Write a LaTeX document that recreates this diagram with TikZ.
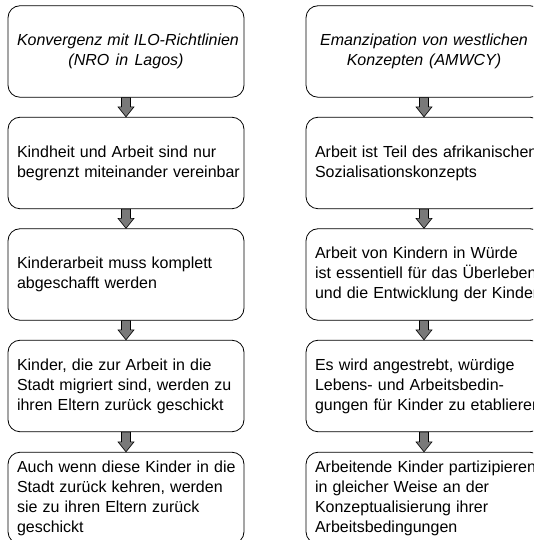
\documentclass[tikz,border=0pt]{standalone}
\usepackage{fontspec}
\setmainfont{Liberation Sans}
\usetikzlibrary{calc}
\newcommand{\widespaces}{\spaceskip=0.32em plus 0.05em\relax}
\tikzset{
  box/.style={draw=black, line width=0.8pt, rounded corners=12pt,
    minimum width=236pt, minimum height=91.5pt, text width=218pt,
    inner xsep=9pt, align=left,
    font=\fontsize{16}{20}\selectfont,
    execute at begin node=\widespaces},
  titlebox/.style={box, align=center, font=\fontsize{16}{20}\selectfont\itshape,
    execute at begin node=\relax},
  barrow/.style={draw=black, line width=0.6pt, fill=gray!95!black, line join=miter}
}
\newcommand{\blockarrow}[2]{%
  \filldraw[barrow] ($(#1.south)+(-4.5,0)$) -- ($(#1.south)+(4.5,0)$)
    -- ($(#2.north)+(4.5,10)$) -- ($(#2.north)+(8,10)$) -- (#2.north)
    -- ($(#2.north)+(-8,10)$) -- ($(#2.north)+(-4.5,10)$) -- cycle;}
\begin{document}
\begin{tikzpicture}[x=1pt,y=1pt]
\useasboundingbox (0,0) rectangle (533,540);
\clip (0,0) rectangle (533,540);
\node[titlebox] (l1) at (126,488.5) {\mbox{Konvergenz mit ILO-Richtlinien}\\(NRO in Lagos)};
\node[box] (l2) at (126,377) {\mbox{Kindheit und Arbeit sind nur}\\\mbox{begrenzt miteinander vereinbar}};
\node[box] (l3) at (126,265.5) {\mbox{Kinderarbeit muss komplett}\\\mbox{abgeschafft werden}};
\node[box] (l4) at (126,154) {\mbox{Kinder, die zur Arbeit in die}\\\mbox{Stadt migriert sind, werden zu}\\\mbox{ihren Eltern zurück geschickt}};
\node[box] (l5) at (126,42) {\mbox{Auch wenn diese Kinder in die}\\\mbox{Stadt zurück kehren, werden}\\\mbox{sie zu ihren Eltern zurück}\\geschickt};
\node[titlebox] (r1) at (424,488.5) {\mbox{Emanzipation von westlichen}\\Konzepten (AMWCY)};
\node[box] (r2) at (424,377) {\mbox{Arbeit ist Teil des afrikanischen}\\Sozialisationskonzepts};
\node[box] (r3) at (424,265.5) {\mbox{Arbeit von Kindern in Würde}\\\mbox{ist essentiell für das Überleben}\\\mbox{und die Entwicklung der Kinder}};
\node[box] (r4) at (424,154) {\mbox{Es wird angestrebt, würdige}\\\mbox{Lebens- und Arbeitsbedin-}\\\mbox{gungen für Kinder zu etablieren}};
\node[box] (r5) at (424,42) {\mbox{Arbeitende Kinder partizipieren}\\\mbox{in gleicher Weise an der}\\\mbox{Konzeptualisierung ihrer}\\Arbeitsbedingungen};
\blockarrow{l1}{l2}
\blockarrow{l2}{l3}
\blockarrow{l3}{l4}
\blockarrow{l4}{l5}
\blockarrow{r1}{r2}
\blockarrow{r2}{r3}
\blockarrow{r3}{r4}
\blockarrow{r4}{r5}
\end{tikzpicture}
\end{document}
